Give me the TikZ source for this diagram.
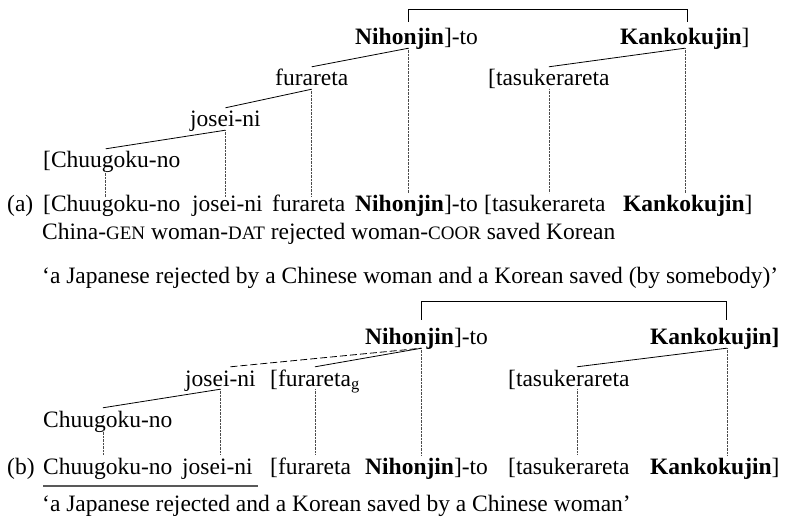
\documentclass[tikz,border=0pt]{standalone}
\usepackage{fontspec}
\setmainfont{Liberation Serif}
\usetikzlibrary{calc}

% small capitals for the gloss
\newcommand{\glsc}[1]{{\fontsize{19}{20}\selectfont #1}}

\begin{document}
\begin{tikzpicture}[
  x=1pt, y=-1pt,
  font=\fontsize{23.5}{26}\selectfont,
  wd/.style={anchor=base west, xshift=-3pt, inner sep=3pt, text height=16pt, text depth=0pt},
  brk/.style={line width=0.8pt},
  tl/.style={line width=0.8pt},
  dl/.style={line width=0.6pt, black!70, dash pattern=on 0.7pt off 0.7pt},
  dsh/.style={line width=0.8pt, dash pattern=on 7pt off 3pt},
  ul/.style={line width=1.6pt, black!65}
]
\useasboundingbox (0,0) rectangle (795,518);

% (a) tree
\node[wd] (aNih) at (355,45) {\textbf{Nihonjin}]-to};
\node[wd] (aKan) at (620,45) {\textbf{Kankokujin}]};
\node[wd] (aFur) at (275,86) {furareta};
\node[wd] (aTas) at (488,86) {[tasukerareta};
\node[wd] (aJos) at (190,127) {josei-ni};
\node[wd] (aChu) at (43,168) {[Chuugoku-no};

% (a) sentence
\node[wd] (aLab) at (7,212) {(a)};
\node[wd] (maChu) at (43,212) {[Chuugoku-no};
\node[wd] (maJos) at (192,212) {josei-ni};
\node[wd] (maFur) at (272,212) {furareta};
\node[wd] (maNih) at (355,212) {\textbf{Nihonjin}]-to};
\node[wd] (maTas) at (484,212) {[tasukerareta};
\node[wd] (maKan) at (623,212) {\textbf{Kankokujin}]};
\node[wd] (aGl) at (42,240) {China-\glsc{GEN} woman-\glsc{DAT} rejected woman-\glsc{COOR} saved Korean};
\node[wd] (aTr) at (42,284) {‘a Japanese rejected by a Chinese woman and a Korean saved (by somebody)’};

\coordinate (aNihT) at ([xshift=-8pt,yshift=4pt]aNih.north);
\coordinate (aKanT) at ([xshift=3pt,yshift=4pt]aKan.north);
\coordinate (aNihB) at ([xshift=-8pt]aNih.south);
\coordinate (aChuB) at ([xshift=-6pt]aChu.south);

\draw[brk] (aNihT) -- ++(0,-12) -| (aKanT);
\draw[tl] (aFur.north) -- (aNihB);
\draw[tl] (aJos.north) -- (aFur.south);
\draw[tl] ([xshift=-6pt]aChu.north) -- (aJos.south);
\draw[tl] (aTas.north) -- (aKan.south);

\draw[dl] (aChuB) -- ([yshift=-4pt]aChuB |- maChu.north);
\draw[dl] (aJos.south) -- ([yshift=-4pt]aJos.south |- maJos.north);
\draw[dl] (aFur.south) -- ([yshift=-4pt]aFur.south |- maFur.north);
\draw[dl] (aNihB) -- (aNihB |- maNih.north);
\draw[dl] (aTas.south) -- (aTas.south |- maTas.north);
\draw[dl] (aKan.south) -- (aKan.south |- maKan.north);

% (b) tree
\node[wd] (bNih) at (365,345) {\textbf{Nihonjin}]-to};
\node[wd] (bKan) at (650,345) {\textbf{Kankokujin]}};
\node[wd] (bJos) at (185,386) {josei-ni};
\node[wd] (bFur) at (270,386) {[furareta\textsubscript{g}};
\node[wd] (bTas) at (508,386) {[tasukerareta};
\node[wd] (bChu) at (43,427) {Chuugoku-no};

% (b) sentence
\node[wd] (bLab) at (7,474) {(b)};
\node[wd] (mbChu) at (43,474) {Chuugoku-no};
\node[wd] (mbJos) at (182,474) {josei-ni};
\node[wd] (mbFur) at (270,474) {[furareta};
\node[wd] (mbNih) at (365,474) {\textbf{Nihonjin}]-to};
\node[wd] (mbTas) at (508,474) {[tasukerareta};
\node[wd] (mbKan) at (650,474) {\textbf{Kankokujin}]};
\node[wd] (bTr) at (42,511) {‘a Japanese rejected and a Korean saved by a Chinese woman’};

\coordinate (bNihT) at ([xshift=-5pt,yshift=6pt]bNih.north);
\coordinate (bKanT) at ([xshift=12pt,yshift=6pt]bKan.north);
\coordinate (bNihB) at ([xshift=-5pt]bNih.south);
\coordinate (bKanB) at ([xshift=12pt]bKan.south);
\coordinate (bChuB) at ([xshift=-5pt]bChu.south);
\coordinate (bTasB) at ([xshift=8pt]bTas.south);

\draw[brk] (bNihT) -- ++(0,-18) -| (bKanT);
\draw[dsh] ([xshift=10pt]bJos.north) -- (bNihB);
\draw[tl] (bFur.north) -- (bNihB);
\draw[tl] ([xshift=-5pt]bChu.north) -- (bJos.south);
\draw[tl] ([xshift=8pt]bTas.north) -- (bKanB);

\draw[dl] (bChuB) -- (bChuB |- mbChu.north);
\draw[dl] (bJos.south) -- (bJos.south |- mbJos.north);
\draw[dl] (bFur.south) -- (bFur.south |- mbFur.north);
\draw[dl] (bNihB) -- (bNihB |- mbNih.north);
\draw[dl] (bTasB) -- (bTasB |- mbTas.north);
\draw[dl] (bKanB) -- (bKanB |- mbKan.north);

\draw[ul] ([xshift=3pt,yshift=-9pt]mbChu.south west) -- ([xshift=2pt,yshift=-9pt]mbJos.south east);

\end{tikzpicture}
\end{document}
